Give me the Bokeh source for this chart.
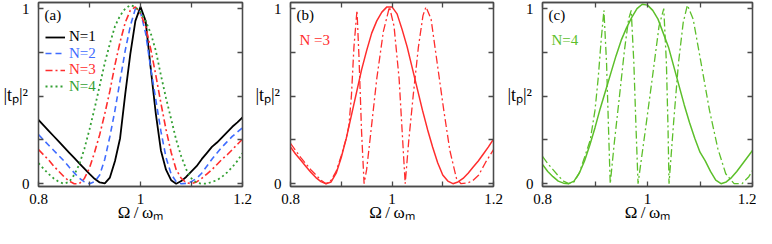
from bokeh.plotting import figure
from bokeh.layouts import row
from bokeh.models import Range1d, FixedTicker, LinearAxis, Label, Legend, LegendItem
from bokeh.embed import file_html
from bokeh.resources import INLINE

# ---------------- data ----------------
omega = [0.80, 0.81, 0.82, 0.83, 0.84, 0.85, 0.86, 0.87, 0.88, 0.89, 0.90,
         0.91, 0.92, 0.93, 0.94, 0.95, 0.96, 0.97, 0.98, 0.99, 1.00, 1.01,
         1.02, 1.03, 1.04, 1.05, 1.06, 1.07, 1.08, 1.09, 1.10, 1.11, 1.12,
         1.13, 1.14, 1.15, 1.16, 1.17, 1.18, 1.19, 1.20]

# panel (a)
a_n1 = [0.364, 0.333, 0.302, 0.271, 0.240, 0.209, 0.178, 0.147, 0.116, 0.086, 0.056,
        0.028, 0.007, 0.002, 0.035, 0.13, 0.26, 0.51, 0.74, 0.93, 1.01, 0.93,
        0.66, 0.40, 0.19, 0.08, 0.02, 0.0, 0.015, 0.04, 0.07, 0.10, 0.14,
        0.175, 0.21, 0.235, 0.265, 0.295, 0.325, 0.35, 0.378]
a_n2 = [0.28, 0.25, 0.22, 0.19, 0.16, 0.13, 0.095, 0.062, 0.032, 0.01, 0.0,
        0.012, 0.05, 0.14, 0.27, 0.42, 0.59, 0.76, 0.90, 1.0, 0.98, 0.86,
        0.66, 0.48, 0.30, 0.15, 0.055, 0.012, 0.0, 0.002, 0.012, 0.03, 0.06,
        0.10, 0.14, 0.175, 0.21, 0.24, 0.27, 0.295, 0.32]
a_n3 = [0.195, 0.165, 0.135, 0.10, 0.07, 0.04, 0.015, 0.0, 0.0, 0.03, 0.09,
        0.18, 0.28, 0.40, 0.53, 0.68, 0.81, 0.92, 0.99, 1.01, 0.97, 0.90,
        0.77, 0.62, 0.46, 0.31, 0.18, 0.08, 0.03, 0.005, 0.0, 0.01, 0.03,
        0.055, 0.08, 0.11, 0.14, 0.165, 0.195, 0.225, 0.254]
a_n4 = [0.117, 0.085, 0.055, 0.03, 0.01, 0.0, 0.01, 0.05, 0.11, 0.20, 0.31,
        0.43, 0.56, 0.69, 0.80, 0.90, 0.96, 1.0, 1.02, 1.01, 0.98, 0.93,
        0.86, 0.76, 0.62, 0.49, 0.37, 0.25, 0.155, 0.08, 0.03, 0.005, 0.0,
        0.0, 0.01, 0.02, 0.04, 0.065, 0.095, 0.13, 0.174]

# panel (b), N = 3
b_solid = [0.21, 0.17, 0.135, 0.10, 0.065, 0.035, 0.012, 0.0, 0.01, 0.06, 0.15,
           0.26, 0.39, 0.52, 0.65, 0.76, 0.86, 0.93, 0.98, 1.01, 1.01, 0.97,
           0.88, 0.78, 0.66, 0.54, 0.42, 0.31, 0.21, 0.12, 0.05, 0.015, 0.0,
           0.01, 0.03, 0.06, 0.095, 0.13, 0.17, 0.21, 0.254]
b_dd_x = [0.80, 0.82, 0.84, 0.86, 0.87, 0.88, 0.89, 0.90, 0.91, 0.915, 0.92,
          0.925, 0.931, 0.935, 0.94, 0.945, 0.95, 0.957, 0.97, 0.983, 0.995,
          1.004, 1.014, 1.02, 1.026, 1.033, 1.042, 1.052, 1.061, 1.067, 1.077,
          1.089, 1.102, 1.114, 1.127, 1.136, 1.15, 1.16, 1.171, 1.184, 1.20]
b_dd_y = [0.23, 0.15, 0.08, 0.02, 0.0, 0.02, 0.07, 0.16, 0.26, 0.33, 0.50,
          0.78, 0.99, 0.72, 0.30, 0.0, 0.08, 0.26, 0.60, 0.87, 1.01,
          0.90, 0.60, 0.30, 0.0, 0.245, 0.51, 0.78, 0.96, 1.01, 0.94,
          0.69, 0.42, 0.19, 0.03, 0.0, 0.005, 0.02, 0.05, 0.12, 0.195]

# panel (c), N = 4
c_solid = [0.11, 0.07, 0.04, 0.015, 0.003, 0.0, 0.015, 0.06, 0.13, 0.22, 0.32,
           0.43, 0.53, 0.63, 0.73, 0.82, 0.89, 0.95, 1.0, 1.025, 1.02, 0.99,
           0.94, 0.86, 0.78, 0.67, 0.56, 0.45, 0.35, 0.26, 0.18, 0.13, 0.07,
           0.02, 0.0, 0.01, 0.035, 0.07, 0.11, 0.15, 0.19]
c_dd_x = [0.80, 0.81, 0.82, 0.83, 0.84, 0.85, 0.86, 0.87, 0.88, 0.891, 0.90,
          0.906, 0.912, 0.917, 0.922, 0.926, 0.929, 0.937, 0.947, 0.956, 0.964,
          0.969, 0.974, 0.978, 0.982, 0.997, 1.009, 1.022, 1.031, 1.036, 1.039,
          1.041, 1.05, 1.059, 1.068, 1.076, 1.087, 1.102, 1.118, 1.134, 1.149,
          1.165, 1.18, 1.193, 1.20]
c_dd_y = [0.156, 0.115, 0.08, 0.045, 0.015, 0.0, 0.01, 0.06, 0.15, 0.25, 0.42,
          0.60, 0.83, 0.99, 0.69, 0.29, 0.0, 0.24, 0.51, 0.76, 0.94,
          0.99, 0.69, 0.33, 0.0, 0.33, 0.60, 0.90, 1.0, 0.69, 0.33,
          0.0, 0.36, 0.69, 0.92, 1.02, 0.94, 0.69, 0.42, 0.20, 0.057,
          0.0, 0.0, 0.04, 0.075]

x_ticks = [0.8, 0.9, 1.0, 1.1, 1.2]
x_tick_labels = {0.8: "0.8", 0.9: "", 1.0: "1", 1.1: "", 1.2: "1.2"}
y_ticks = [0.0, 0.25, 0.5, 0.75, 1.0]
y_tick_labels = {0.0: "0", 0.25: "", 0.5: "", 0.75: "", 1.0: "1"}

panel_tags = ["(a)", "(b)", "(c)"]
legend_labels = ["N=1", "N=2", "N=3", "N=4"]
x_title = "\u03a9\u2009/\u2009\u03c9\u2098"
y_title = "|t\u209a|\u00b2"

# ---------------- styling ----------------
FONT = "'Liberation Serif', 'Times New Roman', serif"
FRAME = "#4a4a4a"
BLACK = "#000000"
BLUE = "#3f6cff"
RED = "#ff2d2d"
GREEN_A = "#33a033"
GREEN_C = "#5cbf2a"
XMIN, XMAX = 0.8, 1.2
YMIN, YMAX = -0.016, 1.035


def make_fig(width, left, right):
    p = figure(width=width, height=228, x_range=Range1d(XMIN, XMAX),
               y_range=Range1d(YMIN, YMAX), output_backend="svg",
               toolbar_location=None, x_axis_type=None, y_axis_type=None,
               min_border_left=left, min_border_right=right,
               min_border_top=2, min_border_bottom=42)
    p.outline_line_color = FRAME
    p.outline_line_width = 1.3
    p.background_fill_color = "white"
    p.border_fill_color = "white"
    for side, ticks, labels in (("below", x_ticks, x_tick_labels),
                                ("left", y_ticks, y_tick_labels),
                                ("above", x_ticks, None),
                                ("right", y_ticks, None)):
        ax = LinearAxis(ticker=FixedTicker(ticks=ticks, minor_ticks=[]))
        ax.axis_line_color = FRAME
        ax.axis_line_width = 1.3
        ax.major_tick_line_color = FRAME
        ax.major_tick_line_width = 1.3
        ax.major_tick_in = 5
        ax.major_tick_out = 0
        ax.minor_tick_line_color = None
        if labels is not None:
            ax.major_label_overrides = labels
            ax.major_label_text_font = FONT
            ax.major_label_text_font_size = "15px"
            ax.major_label_text_color = "black"
            ax.axis_label_text_font = FONT
            ax.axis_label_text_font_style = "normal"
            ax.axis_label_text_color = "black"
            if side == "left":
                ax.major_label_standoff = 9
                ax.axis_label = y_title
                ax.axis_label_text_font_size = "18px"
                ax.axis_label_orientation = "horizontal"
                ax.axis_label_standoff = -9
            else:
                ax.major_label_standoff = 7
                ax.axis_label = x_title
                ax.axis_label_text_font_size = "17px"
                ax.axis_label_standoff = -4
        else:
            ax.major_label_text_color = None
            ax.major_label_text_font_size = "1px"
            ax.major_label_standoff = 0
        p.add_layout(ax, side)
    return p


def tag(p, text):
    p.add_layout(Label(x=XMIN, y=YMAX, x_offset=6, y_offset=-12, text=text,
                       text_font=FONT, text_font_size="15px",
                       text_baseline="middle", text_color="black"))


# ---------------- panel (a) ----------------
pa = make_fig(252, 35, 10)
r1 = pa.line(omega, a_n1, line_color=BLACK, line_width=1.8)
r2 = pa.line(omega, a_n2, line_color=BLUE, line_width=1.6, line_dash="6 4")
r3 = pa.line(omega, a_n3, line_color=RED, line_width=1.6, line_dash="7 3 2 3")
r4 = pa.line(omega, a_n4, line_color=GREEN_A, line_width=1.8, line_dash="2 3")
tag(pa, panel_tags[0])
for i, (r, lab, col) in enumerate(zip((r1, r2, r3, r4), legend_labels,
                                      (BLACK, BLUE, RED, GREEN_A))):
    leg = Legend(items=[LegendItem(label=lab, renderers=[r])],
                 location=(7, 141 - 16.5 * i))
    leg.background_fill_alpha = 0
    leg.border_line_alpha = 0
    leg.padding = 0
    leg.margin = 0
    leg.spacing = 0
    leg.glyph_width = 20
    leg.glyph_height = 14
    leg.label_height = 14
    leg.label_standoff = 4
    leg.label_text_font = FONT
    leg.label_text_font_size = "15px"
    leg.label_text_color = col
    pa.add_layout(leg)

# ---------------- panel (b) ----------------
pb = make_fig(252, 35, 11)
pb.line(omega, b_solid, line_color=RED, line_width=1.5)
pb.line(b_dd_x, b_dd_y, line_color=RED, line_width=1.3, line_dash="8 3 2 3")
tag(pb, panel_tags[1])
pb.add_layout(Label(x=XMIN, y=YMAX, x_offset=9, y_offset=-37, text="N =3",
                    text_font=FONT, text_font_size="15px",
                    text_baseline="middle", text_color=RED))

# ---------------- panel (c) ----------------
pc = make_fig(252, 38, 4)
pc.line(omega, c_solid, line_color=GREEN_C, line_width=1.5)
pc.line(c_dd_x, c_dd_y, line_color=GREEN_C, line_width=1.3, line_dash="8 3 2 3")
tag(pc, panel_tags[2])
pc.add_layout(Label(x=XMIN, y=YMAX, x_offset=9, y_offset=-37, text="N=4",
                    text_font=FONT, text_font_size="15px",
                    text_baseline="middle", text_color=GREEN_C))

layout = row(pa, pb, pc)
open("out.html", "w").write(file_html(layout, INLINE))
